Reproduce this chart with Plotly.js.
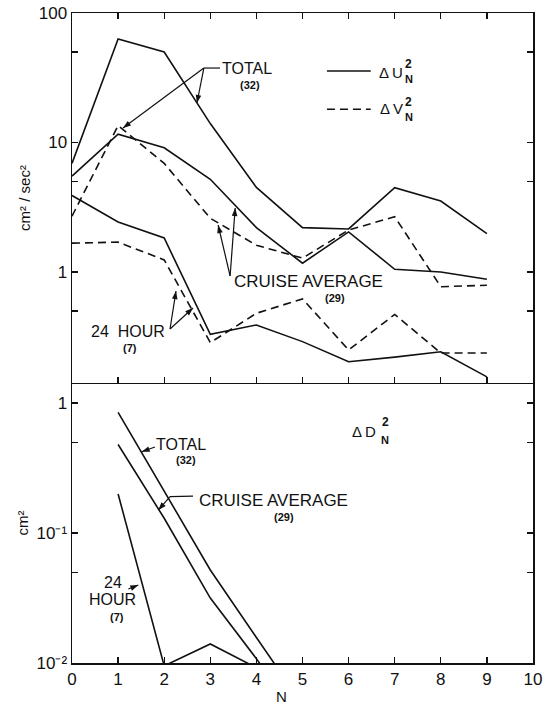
<!DOCTYPE html>
<html>
<head>
<meta charset="utf-8">
<script src="https://cdn.plot.ly/plotly-3.0.1.min.js"></script>
<style>
  html, body { margin: 0; padding: 0; background: #fff; }
  #chart { width: 546px; height: 706px; }
</style>
</head>
<body>
<div id="chart"></div>
<script>
// Wavenumber index N
const N = [0, 1, 2, 3, 4, 5, 6, 7, 8, 9];

// Upper panel: velocity variance per harmonic (cm^2/sec^2)
// ΔU_N^2 (solid)
const uTotal  = [6.9, 63, 50, 14, 4.5, 2.2, 2.15, 4.48, 3.53, 1.98];
const uCruise = [5.5, 11.6, 9.1, 5.2, 2.2, 1.17, 2.04, 1.05, 1.0, 0.88];
const u24h    = [3.9, 2.43, 1.83, 0.33, 0.39, 0.29, 0.203, 0.22, 0.242, 0.155];
// ΔV_N^2 (dashed)
const vCruise = [2.7, 13.5, 6.9, 2.6, 1.61, 1.28, 2.11, 2.67, 0.77, 0.79];
const v24h    = [1.67, 1.7, 1.24, 0.285, 0.48, 0.62, 0.25, 0.47, 0.237, 0.237];

// Lower panel: depth variance per harmonic (cm^2), ΔD_N^2
const dN      = [1, 2, 3, 4, 5];
const dTotal  = [0.85, 0.21, 0.052, 0.0157, 0.0048];
const dCruise = [0.48, 0.13, 0.0316, 0.0108, 0.0033];
const dN24    = [1, 2, 3, 4];
const d24h    = [0.2, 0.0095, 0.014, 0.0092];

// Tick marks and labels
const xTicks = [0, 1, 2, 3, 4, 5, 6, 7, 8, 9, 10];
const uvTickVals = [1, 10, 100];
const uvTickText = ['1', '10', '100'];
const uvMinorVals = [0.5, 5, 50];
const dTickVals = [0.01, 0.1, 1];
const dTickText = ['10\u207B\u00B2', '10\u207B\u00B9', '1'];
const dMinorVals = [0.05, 0.5];

const INK = '#111';
const FONT = '"Liberation Sans", Arial, sans-serif';
const LW = 1.6;
const DASH = '8px,5px';

// Figure geometry
const W = 546, H = 706;
const M = { l: 72, r: 13, t: 13, b: 43 };
const SPLIT = 0.4308;
const X_RANGE = [0, 10];
const TOP_RANGE = [-0.857, 2];      // log10 units
const BOT_RANGE = [-2, 0.155];      // log10 units

const plotW = W - M.l - M.r;
const plotH = H - M.t - M.b;
const pxPerX = plotW / (X_RANGE[1] - X_RANGE[0]);
const pxPerDecTop = plotH * (1 - SPLIT) / (TOP_RANGE[1] - TOP_RANGE[0]);
const pxPerDecBot = plotH * SPLIT / (BOT_RANGE[1] - BOT_RANGE[0]);

function line(x, y, dash, xa, ya) {
  return {
    x: x, y: y, type: 'scatter', mode: 'lines',
    xaxis: xa, yaxis: ya, showlegend: false, hoverinfo: 'skip',
    line: { color: INK, width: LW, dash: dash || 'solid' }
  };
}

const data = [
  line(N, uTotal, 'solid', 'x2', 'y2'),
  line(N, uCruise, 'solid', 'x2', 'y2'),
  line(N, u24h, 'solid', 'x2', 'y2'),
  line(N, vCruise, DASH, 'x2', 'y2'),
  line(N, v24h, DASH, 'x2', 'y2'),
  line(dN, dTotal, 'solid', 'x', 'y'),
  line(dN, dCruise, 'solid', 'x', 'y'),
  line(dN24, d24h, 'solid', 'x', 'y')
];

const TOP = { x: 'x2', y: 'y2', dec: pxPerDecTop };
const BOT = { x: 'x', y: 'y', dec: pxPerDecBot };

// Text labels (annotation y on a log axis is given in log10 units)
function label(text, x, ly, p, size, bold) {
  return {
    text: bold ? '<b>' + text + '</b>' : text,
    x: x, y: ly, xref: p.x, yref: p.y,
    showarrow: false, xanchor: 'center', yanchor: 'middle',
    font: { family: FONT, size: size, color: INK }
  };
}

// Leader lines with optional filled arrowhead, drawn as shapes
const shapes = [];
function leader(xt, lyt, xh, lyh, p, head) {
  shapes.push({
    type: 'line', xref: p.x, yref: p.y,
    x0: xt, y0: Math.pow(10, lyt), x1: xh, y1: Math.pow(10, lyh),
    line: { color: INK, width: 1.2 }
  });
  if (head === false) return;
  let dx = (xh - xt) * pxPerX, dy = (lyh - lyt) * p.dec;
  const len = Math.hypot(dx, dy);
  dx /= len; dy /= len;
  const L = 8, Wd = 2.8;
  const bx = -L * dx, by = -L * dy;
  const px = -dy * Wd, py = dx * Wd;
  const f = v => v.toFixed(2);
  shapes.push({
    type: 'path', xref: p.x, yref: p.y,
    xsizemode: 'pixel', ysizemode: 'pixel',
    xanchor: xh, yanchor: Math.pow(10, lyh),
    path: 'M0,0 L' + f(bx + px) + ',' + f(by + py) + ' L' + f(bx - px) + ',' + f(by - py) + ' Z',
    fillcolor: INK, line: { width: 0 }
  });
}

// upper panel leaders
leader(3.21, 1.575, 2.86, 1.575, TOP, false);
leader(2.86, 1.575, 1.106, 1.112, TOP);
leader(2.86, 1.575, 2.71, 1.305, TOP);
leader(3.43, -0.031, 3.17, 0.363, TOP);
leader(3.43, -0.031, 3.54, 0.494, TOP);
leader(2.126, -0.440, 2.256, -0.147, TOP);
leader(2.126, -0.440, 2.625, -0.278, TOP);
// lower panel leaders
leader(1.80, -0.338, 1.512, -0.374, BOT);
leader(2.625, -0.715, 2.126, -0.720, BOT, false);
leader(2.126, -0.720, 1.872, -0.823, BOT);
leader(1.222, -1.431, 1.439, -1.400, BOT);

// key line samples for ΔU² and ΔV²
shapes.push(
  { type: 'line', xref: 'paper', yref: 'paper', x0: 0.553, x1: 0.648, y0: 0.9108, y1: 0.9108,
    line: { color: INK, width: LW } },
  { type: 'line', xref: 'paper', yref: 'paper', x0: 0.553, x1: 0.648, y0: 0.852, y1: 0.852,
    line: { color: INK, width: LW, dash: DASH } }
);

const annotations = [
  // upper panel
  label('TOTAL', 3.80, 1.568, TOP, 16),
  label('(32)', 3.86, 1.444, TOP, 11, true),
  label('CRUISE AVERAGE', 5.12, -0.077, TOP, 17),
  label('(29)', 5.70, -0.201, TOP, 11, true),
  label('24&nbsp; HOUR', 1.215, -0.463, TOP, 16),
  label('(7)', 1.26, -0.585, TOP, 11, true),

  label('Δ\u2009U', 6.92, 1.544, TOP, 15),
  label('2', 7.30, 1.606, TOP, 12, true),
  label('N', 7.30, 1.490, TOP, 11, true),
  label('Δ\u2009V', 6.92, 1.259, TOP, 15),
  label('2', 7.30, 1.313, TOP, 12, true),
  label('N', 7.30, 1.200, TOP, 11, true),

  // lower panel
  label('TOTAL', 2.364, -0.322, BOT, 16),
  label('(32)', 2.47, -0.438, BOT, 11, true),
  label('CRUISE AVERAGE', 4.37, -0.746, BOT, 17),
  label('(29)', 4.60, -0.877, BOT, 11, true),
  label('24', 0.879, -1.377, BOT, 16),
  label('HOUR', 0.879, -1.515, BOT, 16),
  label('(7)', 0.97, -1.646, BOT, 11, true),

  label('Δ\u2009D', 6.33, -0.222, BOT, 15),
  label('2', 6.79, -0.145, BOT, 12, true),
  label('N', 6.79, -0.284, BOT, 11, true),

  // x axis title
  { text: 'N', x: 4.55, xref: 'x', y: -0.0508, yref: 'paper', showarrow: false,
    xanchor: 'center', yanchor: 'middle', font: { family: FONT, size: 15, color: INK } }
];

const axisCommon = {
  showgrid: false, zeroline: false, showline: true,
  linecolor: INK, linewidth: 1.5,
  ticks: 'inside', ticklen: 6, tickwidth: 1.3, tickcolor: INK,
  tickfont: { family: FONT, size: 17, color: INK }
};
const minorTicks = vals => ({
  tickvals: vals, ticks: 'inside', ticklen: 6, tickwidth: 1.3, tickcolor: INK, showgrid: false
});

const layout = {
  width: W, height: H,
  margin: M,
  paper_bgcolor: '#fff', plot_bgcolor: '#fff',
  showlegend: false,
  font: { family: FONT, color: INK },
  xaxis: Object.assign({}, axisCommon, {
    domain: [0, 1], range: X_RANGE, anchor: 'y',
    tickvals: xTicks, mirror: false
  }),
  xaxis2: Object.assign({}, axisCommon, {
    domain: [0, 1], range: X_RANGE, anchor: 'y2', matches: 'x',
    tickvals: xTicks, mirror: 'ticks', showticklabels: false
  }),
  yaxis: Object.assign({}, axisCommon, {
    type: 'log', domain: [0, SPLIT], range: BOT_RANGE, anchor: 'x',
    tickvals: dTickVals, ticktext: dTickText, mirror: 'ticks',
    minor: minorTicks(dMinorVals),
    title: { text: 'cm\u00B2', font: { family: FONT, size: 15, color: INK }, standoff: 4 }
  }),
  yaxis2: Object.assign({}, axisCommon, {
    type: 'log', domain: [SPLIT, 1], range: TOP_RANGE, anchor: 'x2',
    tickvals: uvTickVals, ticktext: uvTickText, mirror: 'ticks',
    minor: minorTicks(uvMinorVals),
    title: { text: 'cm\u00B2 / sec\u00B2', font: { family: FONT, size: 15, color: INK }, standoff: 4 }
  }),
  annotations: annotations,
  shapes: shapes
};

Plotly.newPlot('chart', data, layout, { staticPlot: true, displayModeBar: false });
</script>
</body>
</html>
